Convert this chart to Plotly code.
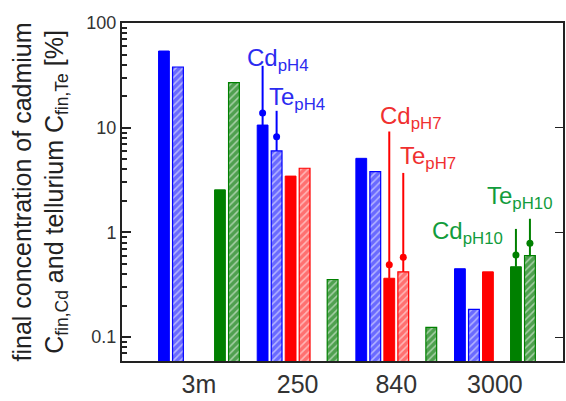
import plotly.graph_objects as go
import numpy as np

categories = ["3m", "250", "840", "3000"]
series_names = ["Cd pH4", "Te pH4", "Cd pH7", "Te pH7", "Cd pH10", "Te pH10"]
cd_ph4 = [54, 10.6, 5.1, 0.45]
te_ph4 = [38, 6.0, 3.8, 0.184]
cd_ph7 = [None, 3.45, 0.365, 0.42]
te_ph7 = [None, 4.1, 0.42, None]
cd_ph10 = [2.55, None, None, 0.47]
te_ph10 = [27, 0.355, 0.124, 0.6]

# leader lines: (series index, category index, dot value, top value)
leader_series = [0, 1, 2, 3, 4, 5]
leader_group = [1, 1, 2, 2, 3, 3]
leader_dot = [13.8, 8.2, 0.49, 0.58, 0.61, 0.79]
leader_top = [39, 14.5, 9.2, 3.7, 1.08, 1.35]
label_main = ["Cd", "Te", "Cd", "Te", "Cd", "Te"]
label_sub = ["pH4", "pH4", "pH7", "pH7", "pH10", "pH10"]

y_tickvals = [0.1, 1, 10, 100]
y_ticktext = ["0.1", "1", "10", "100"]

values = [cd_ph4, te_ph4, cd_ph7, te_ph7, cd_ph10, te_ph10]
colors = ["#0000ff", "#0000ff", "#ff0000", "#ff0000", "#008000", "#008000"]
light = ["#6a6aff", "#6a6aff", "#ff7070", "#ff7070", "#4fa04f", "#4fa04f"]
hatched = [False, True, False, True, False, True]

W, H = 566, 401
ML, MR, MT, MB = 122, 3, 23, 40
PW = W - ML - MR
PH = H - MT - MB
XR = [-0.78, 3.69]
YR = [-1.228, 2.0]

slot = 14.0 / (PW / (XR[1] - XR[0]))
barw = 10.8 / (PW / (XR[1] - XR[0]))

def px_to_x(px):
    return XR[0] + (px - ML) / PW * (XR[1] - XR[0])

def py_to_logy(py):
    return YR[1] - (py - MT) / PH * (YR[1] - YR[0])

fig = go.Figure()
for k in range(6):
    xs = [i + (k - 2.5) * slot for i in range(len(categories))]
    marker = dict(color=colors[k], line=dict(color=colors[k], width=1))
    if hatched[k]:
        marker = dict(color=light[k], line=dict(color=colors[k], width=1.2),
                      pattern=dict(shape="/", fgcolor="white", bgcolor=light[k], size=5, solidity=0.3))
    fig.add_trace(go.Bar(x=xs, y=values[k], width=barw, marker=marker, name=series_names[k],
                         showlegend=False))

for j in range(len(leader_series)):
    k = leader_series[j]
    g = leader_group[j]
    xc = g + (k - 2.5) * slot
    fig.add_trace(go.Scatter(x=[xc, xc], y=[values[k][g], leader_top[j]], mode="lines",
                             line=dict(color=colors[k], width=2), showlegend=False))
    fig.add_trace(go.Scatter(x=[xc], y=[leader_dot[j]], mode="markers",
                             marker=dict(color=colors[k], size=7), showlegend=False))

# dummy trace for right axis
fig.add_trace(go.Scatter(x=[0], y=[1], yaxis="y2", mode="markers", marker=dict(opacity=0),
                         showlegend=False, hoverinfo="skip"))

# label positions (pixel: left x, center y of main glyphs)
label_px = [(245, 57), (267, 96), (378, 115), (398, 155), (430, 230), (485, 195)]
label_colors = ["#2b2bf0", "#2b2bf0", "#f03030", "#f03030", "#129c3c", "#129c3c"]
for j in range(6):
    px, py = label_px[j]
    fig.add_annotation(x=px_to_x(px), y=py_to_logy(py + 2), xref="x", yref="y",
                       text=f"{label_main[j]}<sub>{label_sub[j]}</sub>", showarrow=False,
                       xanchor="left", yanchor="middle",
                       font=dict(family="Liberation Sans", size=24, color=label_colors[j]))

fig.add_annotation(x=(5 - ML) / PW, y=0.5, xref="paper", yref="paper", textangle=-90,
                   text="final concentration of cadmium<br>C<sub>fin,Cd</sub> and tellurium C<sub>fin,Te</sub> [%]",
                   showarrow=False, xanchor="left", yanchor="middle",
                   font=dict(family="Liberation Sans", size=25, color="#222222"))

fig.update_layout(
    width=W, height=H, margin=dict(l=ML, r=MR, t=MT, b=MB),
    plot_bgcolor="white", paper_bgcolor="white", barmode="overlay",
    xaxis=dict(range=XR, tickvals=list(range(len(categories))), ticktext=categories,
               showgrid=False, zeroline=False, showline=True, linecolor="#222", linewidth=2,
               mirror=True, ticks="", tickfont=dict(family="Liberation Sans", size=25, color="#333")),
    yaxis=dict(type="log", range=YR, tickvals=y_tickvals, ticktext=y_ticktext,
               showgrid=False, zeroline=False, showline=True, linecolor="#222", linewidth=2,
               ticks="inside", ticklen=9, tickwidth=1.5, tickcolor="#222",
               minor=dict(ticks="inside", ticklen=5, tickcolor="#222", dtick="D1"),
               tickfont=dict(family="Liberation Sans", size=18, color="#333")),
    yaxis2=dict(type="log", range=YR, overlaying="y", side="right", showgrid=False,
                zeroline=False, showline=True, linecolor="#222", linewidth=1.5,
                tickvals=y_tickvals, ticks="inside", ticklen=8, tickcolor="#222",
                showticklabels=False),
    font=dict(family="Liberation Sans"),
)

fig.write_html("out.html")
